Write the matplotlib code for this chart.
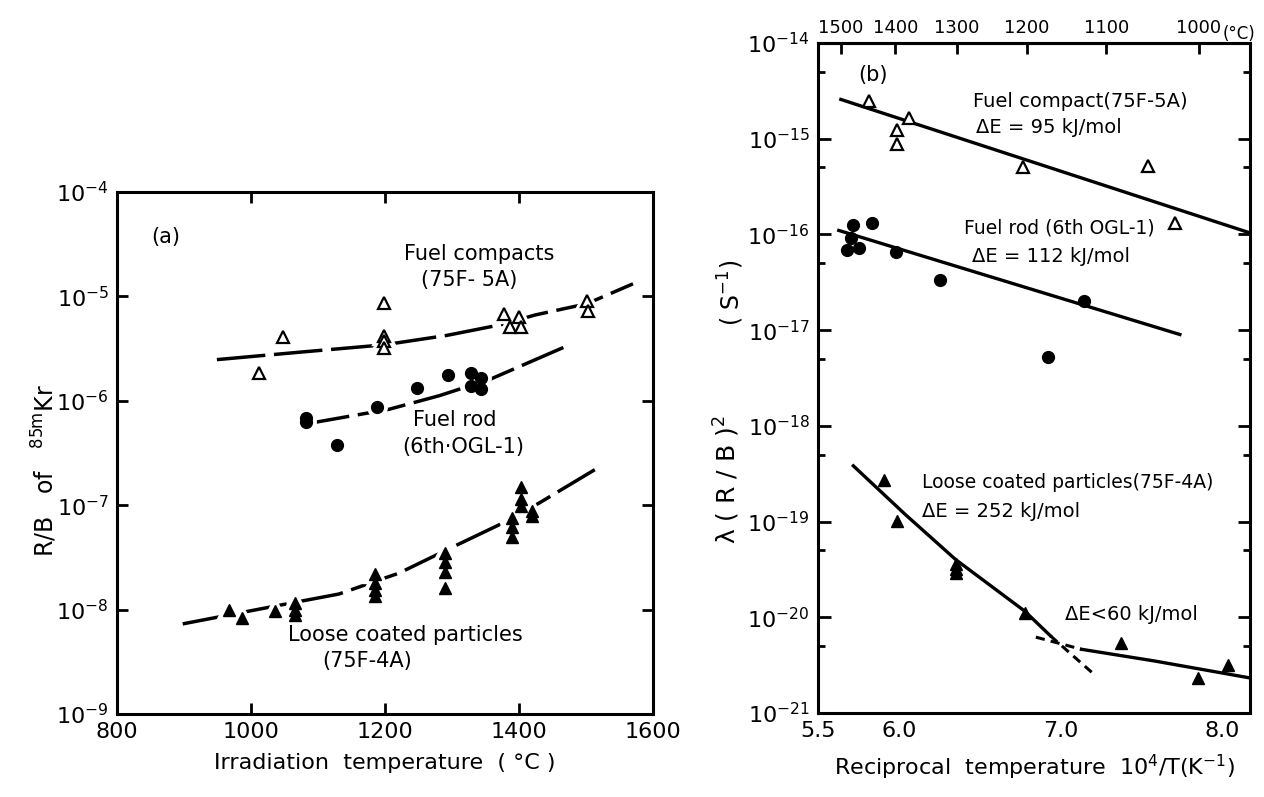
import numpy as np
import matplotlib.pyplot as plt
from matplotlib.ticker import FixedLocator, FuncFormatter, NullLocator

plt.rcParams['font.family'] = 'DejaVu Sans'
plt.rcParams['mathtext.fontset'] = 'dejavusans'

# ---- (a) R/B of 85mKr vs irradiation temperature ----
fc_T = [1012, 1047, 1199, 1199, 1199, 1199, 1378, 1387, 1400, 1403, 1501, 1503]
fc_RB = [1.86e-6, 4.1e-6, 8.7e-6, 4.2e-6, 3.7e-6, 3.2e-6, 6.8e-6, 5.1e-6, 6.3e-6, 5.1e-6, 9.0e-6, 7.2e-6]
fc_curve_T = [949, 1072, 1199, 1292, 1376, 1424, 1501, 1570]
fc_curve_RB = [2.48e-6, 2.92e-6, 3.44e-6, 4.23e-6, 5.41e-6, 6.64e-6, 8.5e-6, 1.32e-5]

fr_T = [1082, 1082, 1128, 1188, 1248, 1294, 1328, 1328, 1343, 1343]
fr_RB = [6.9e-7, 6.3e-7, 3.76e-7, 8.75e-7, 1.32e-6, 1.76e-6, 1.83e-6, 1.4e-6, 1.66e-6, 1.29e-6]
fr_curve_T = [1075, 1206, 1281, 1358, 1466]
fr_curve_RB = [5.9e-7, 8.3e-7, 1.12e-6, 1.62e-6, 3.24e-6]

lc_T = [967, 986, 1036, 1066, 1066, 1066, 1185, 1185, 1185, 1185, 1290, 1290, 1290, 1290,
        1390, 1390, 1390, 1403, 1403, 1403, 1420, 1420]
lc_RB = [9.9e-9, 8.3e-9, 9.6e-9, 1.15e-8, 9.9e-9, 8.9e-9, 2.2e-8, 1.8e-8, 1.55e-8, 1.35e-8,
         3.5e-8, 2.84e-8, 2.3e-8, 1.6e-8, 7.6e-8, 6.2e-8, 5.0e-8, 1.48e-7, 1.15e-7, 9.8e-8,
         8.9e-8, 7.9e-8]
lc_curve_T = [898, 1042, 1131, 1221, 1301, 1376, 1430, 1513]
lc_curve_RB = [7.3e-9, 1.1e-8, 1.41e-8, 2.24e-8, 3.98e-8, 6.76e-8, 1.05e-7, 2.19e-7]

# ---- (b) lambda (R/B)^2 vs reciprocal temperature ----
fcb_x = [5.813, 5.987, 5.987, 6.059, 6.769, 7.538, 7.705]
fcb_y = [2.47e-15, 1.24e-15, 8.9e-16, 1.64e-15, 5.0e-16, 5.2e-16, 1.3e-16]
fcb_line_x = [5.641, 8.159]
fcb_line_y = [2.57e-15, 1.05e-16]

frb_x = [5.679, 5.705, 5.718, 5.756, 5.833, 5.979, 6.251, 6.918, 7.141]
frb_y = [6.9e-17, 9.1e-17, 1.26e-16, 7.2e-17, 1.3e-16, 6.6e-17, 3.3e-17, 5.2e-18, 2.0e-17]
frb_line_x = [5.628, 7.736]
frb_line_y = [1.1e-16, 9.0e-18]

lcb_x = [5.910, 5.987, 6.351, 6.351, 6.351, 6.777, 7.372, 7.846, 8.033]
lcb_y = [2.7e-19, 1.02e-19, 3.58e-20, 3.17e-20, 2.9e-20, 1.12e-20, 5.4e-21, 2.3e-21, 3.2e-21]
steep_x = [5.718, 6.038, 6.351, 6.777, 6.936]
steep_y = [3.82e-19, 1.19e-19, 4.0e-20, 1.16e-20, 6.4e-21]
steep_ext_x = [6.936, 7.205]
steep_ext_y = [6.4e-21, 2.54e-21]
flat_x = [7.128, 7.577, 8.159]
flat_y = [4.63e-21, 3.5e-21, 2.34e-21]
flat_ext_x = [6.846, 7.128]
flat_ext_y = [6.2e-21, 4.63e-21]

top_ticks_C = [1500, 1400, 1300, 1200, 1100, 1000]


def log_fmt(v, pos):
    return r'$10^{%d}$' % int(round(np.log10(v)))


fig = plt.figure(figsize=(12.64, 7.97), dpi=100)
axa = fig.add_axes([0.0926, 0.1041, 0.4241, 0.6550])
axb = fig.add_axes([0.6472, 0.1054, 0.3418, 0.8407])

# panel (a): long-dash curves, broken around the markers by a white backing
dash = (0, (14, 2.5))
axa.plot(fc_curve_T, fc_curve_RB, color='black', lw=2.5, ls=dash, zorder=2)
axa.plot(fr_curve_T, fr_curve_RB, color='black', lw=2.5, ls=dash, zorder=2)
axa.plot(lc_curve_T, lc_curve_RB, color='black', lw=2.5, ls=dash, zorder=2)
for xs, ys, mk in ((fc_T, fc_RB, '^'), (fr_T, fr_RB, 'o'), (lc_T, lc_RB, '^')):
    axa.plot(xs, ys, ls='none', marker=mk, ms=9, mfc='white', mec='white', mew=6, zorder=2.5)
axa.plot(fc_T, fc_RB, ls='none', marker='^', ms=9, mfc='white', mec='black', mew=1.6, zorder=3)
axa.plot(fr_T, fr_RB, ls='none', marker='o', ms=8.5, color='black', zorder=3)
axa.plot(lc_T, lc_RB, ls='none', marker='^', ms=9, color='black', zorder=3)

axa.set_yscale('log')
axa.set_xlim(800, 1600)
axa.set_ylim(1e-9, 1e-4)
axa.xaxis.set_major_locator(FixedLocator([800, 1000, 1200, 1400, 1600]))
axa.yaxis.set_major_locator(FixedLocator([1e-9, 1e-8, 1e-7, 1e-6, 1e-5, 1e-4]))
axa.yaxis.set_minor_locator(NullLocator())
axa.yaxis.set_major_formatter(FuncFormatter(log_fmt))
axa.tick_params(which='major', direction='in', length=8, width=2, top=True, right=True,
                labelsize=16, pad=6)

txt = dict(fontsize=15, ha='center', va='center')
axa.text(872, 3.7e-5, '(a)', **txt)
axa.text(1340, 2.57e-5, 'Fuel compacts', **txt)
axa.text(1325, 1.45e-5, '(75F- 5A)', **txt)
axa.text(1304, 6.6e-7, 'Fuel rod', **txt)
axa.text(1316, 3.6e-7, '(6th·OGL-1)', **txt)
axa.text(1230, 5.75e-9, 'Loose coated particles', **txt)
axa.text(1173, 3.2e-9, '(75F-4A)', **txt)
axa.set_xlabel('Irradiation  temperature  ( °C )', fontsize=16, labelpad=8)
fig.text(0.035, 0.41, r'R/B   of   $^{\mathrm{85m}}$Kr', rotation=90, fontsize=17,
         ha='center', va='center')

# panel (b)
axb.plot(fcb_line_x, fcb_line_y, color='black', lw=2.4, zorder=2)
axb.plot(frb_line_x, frb_line_y, color='black', lw=2.4, zorder=2)
axb.plot(steep_x, steep_y, color='black', lw=2.4, zorder=2)
axb.plot(flat_x, flat_y, color='black', lw=2.4, zorder=2)
axb.plot(steep_ext_x, steep_ext_y, color='black', lw=2.2, ls=(0, (3, 2)), zorder=2)
axb.plot(flat_ext_x, flat_ext_y, color='black', lw=2.2, ls=(0, (3, 2)), zorder=2)
axb.plot(fcb_x, fcb_y, ls='none', marker='^', ms=9, mfc='white', mec='black', mew=1.6, zorder=3)
axb.plot(frb_x, frb_y, ls='none', marker='o', ms=8.5, color='black', zorder=3)
axb.plot(lcb_x, lcb_y, ls='none', marker='^', ms=9, color='black', zorder=3)

axb.set_yscale('log')
axb.set_xlim(5.5, 8.17)
axb.set_ylim(1e-21, 1e-14)
axb.xaxis.set_major_locator(FixedLocator([5.5, 6.0, 7.0, 8.0]))
axb.xaxis.set_major_formatter(FuncFormatter(lambda v, p: '%.1f' % v))
axb.yaxis.set_major_locator(FixedLocator([10.0 ** k for k in range(-21, -13)]))
axb.yaxis.set_minor_locator(FixedLocator([5 * 10.0 ** k for k in range(-21, -14)]))
axb.yaxis.set_major_formatter(FuncFormatter(log_fmt))
axb.tick_params(which='major', direction='in', length=9, width=2, right=True,
                labelsize=16, pad=6)
axb.tick_params(which='minor', direction='in', length=5, width=2, right=True)
axb.tick_params(axis='x', which='major', length=0)

sec = axb.secondary_xaxis('top', functions=(lambda x: 1e4 / x - 273.15,
                                            lambda t: 1e4 / (t + 273.15)))
sec.set_xticks(top_ticks_C)
sec.tick_params(direction='in', length=8, width=2, labelsize=13, pad=4)
sec.spines['top'].set_linewidth(2.2)
axb.text(8.0, 1.0, '(°C)', transform=axb.get_xaxis_transform(), fontsize=12,
         ha='left', va='bottom')

axb.text(5.838, 4.6e-15, '(b)', fontsize=15, ha='center', va='center')
tl = dict(fontsize=14, ha='left', va='center')
axb.text(6.46, 2.45e-15, 'Fuel compact(75F-5A)', **tl)
axb.text(6.474, 1.3e-15, 'ΔE = 95 kJ/mol', **tl)
axb.text(6.40, 1.17e-16, 'Fuel rod (6th OGL-1)', fontsize=13.5, ha='left', va='center')
axb.text(6.449, 5.9e-17, 'ΔE = 112 kJ/mol', **tl)
axb.text(6.141, 2.57e-19, 'Loose coated particles(75F-4A)', fontsize=13.5, ha='left', va='center')
axb.text(6.141, 1.26e-19, 'ΔE = 252 kJ/mol', **tl)
axb.text(7.026, 1.07e-20, 'ΔE<60 kJ/mol', **tl)
axb.set_xlabel(r'Reciprocal  temperature  $10^4$/T(K$^{-1}$)', fontsize=16, labelpad=8)
fig.text(0.575, 0.398, r'λ ( R / B )$^2$', rotation=90, fontsize=18, ha='center', va='center')
fig.text(0.578, 0.632, r'( S$^{-1}$)', rotation=90, fontsize=17, ha='center', va='center')

for ax in (axa, axb):
    for s in ax.spines.values():
        s.set_linewidth(2.2)

fig.savefig('out.png', dpi=100)
